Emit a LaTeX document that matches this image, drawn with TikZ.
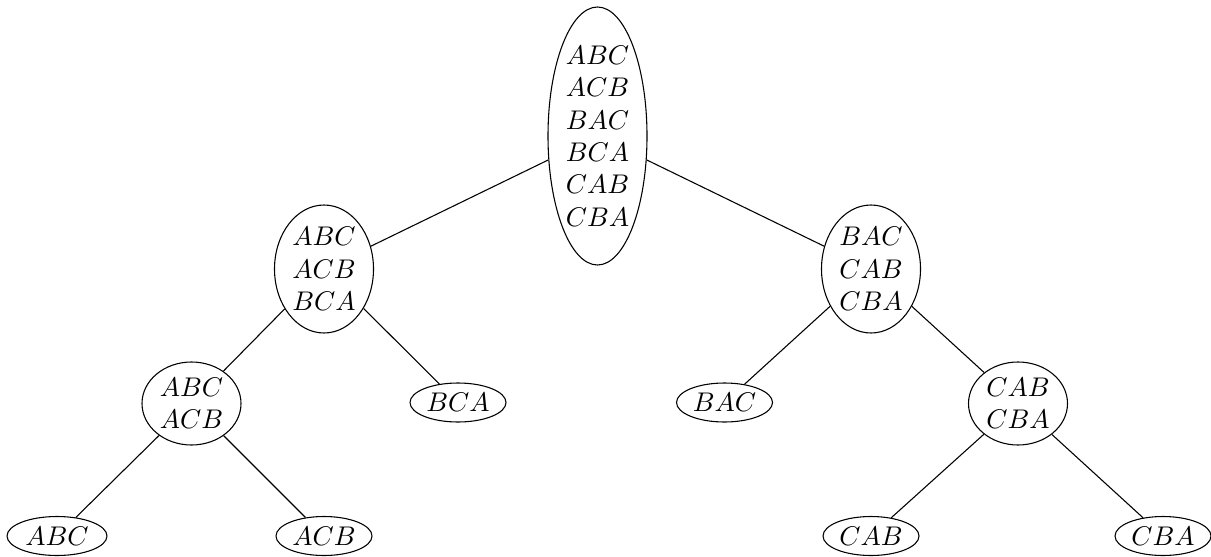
\documentclass[tikz,border=0pt]{standalone}
\usetikzlibrary{shapes.geometric}
\begin{document}
\begin{tikzpicture}[x=0.37037pt,y=-0.37037pt,
  el/.style={draw, ellipse, inner sep=0pt, align=center},
  rootel/.style={el, minimum width={99*0.37037pt}, minimum height={258*0.37037pt}},
  threeel/.style={el, minimum width={99*0.37037pt}, minimum height={128*0.37037pt}},
  twoel/.style={el, minimum width={99*0.37037pt}, minimum height={83*0.37037pt}},
  leafel/.style={el, minimum width={96*0.37037pt}, minimum height={39*0.37037pt}}]
\useasboundingbox (0,0) rectangle (1211,556);
\node[rootel] (r) at (597.5,136) {$ABC$\\$ACB$\\$BAC$\\$BCA$\\$CAB$\\$CBA$};
\node[threeel] (l) at (324,269) {$ABC$\\$ACB$\\$BCA$};
\node[threeel] (rr) at (871,269) {$BAC$\\$CAB$\\$CBA$};
\node[twoel] (ll) at (191.5,403.5) {$ABC$\\$ACB$};
\node[leafel] (lr) at (458,402.5) {$BCA$};
\node[leafel] (rl) at (724.5,402.5) {$BAC$};
\node[twoel] (r2) at (1018,403.5) {$CAB$\\$CBA$};
\node[leafel, minimum width={100*0.37037pt}] (lll) at (57,536) {$ABC$};
\node[leafel] (llr) at (324,536) {$ACB$};
\node[leafel] (r2l) at (871,536) {$CAB$};
\node[leafel] (r2r) at (1163,536) {$CBA$};
\draw (r) -- (l);
\draw (r) -- (rr);
\draw (l) -- (ll);
\draw (l) -- (lr);
\draw (rr) -- (rl);
\draw (rr) -- (r2);
\draw (ll) -- (lll);
\draw (ll) -- (llr);
\draw (r2) -- (r2l);
\draw (r2) -- (r2r);
\end{tikzpicture}
\end{document}
